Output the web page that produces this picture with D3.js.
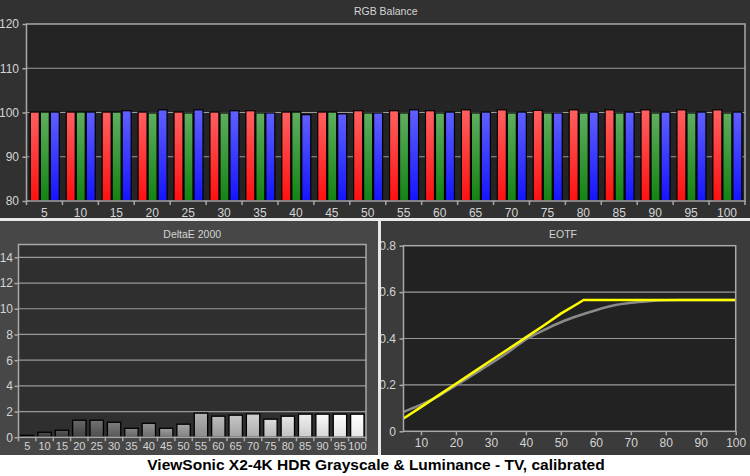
<!DOCTYPE html>
<html><head><meta charset="utf-8">
<script src="https://cdn.jsdelivr.net/npm/d3@7/dist/d3.min.js"></script>
<style>
html,body{margin:0;padding:0;background:#fff;}
svg{display:block;}
text{font-family:"Liberation Sans",Arial,sans-serif;}
</style></head>
<body>
<script>
// ---------- DATA ----------
const categories = [5,10,15,20,25,30,35,40,45,50,55,60,65,70,75,80,85,90,95,100];
const redValues   = [100.1,100.1,100.1,100.1,100.1,100.1,100.4,100.1,100.1,100.4,100.4,100.4,100.6,100.6,100.5,100.6,100.6,100.6,100.6,100.6];
const greenValues = [100.1,100.1,100.1,99.9,99.9,99.9,99.9,100.1,100.1,99.9,99.9,99.9,99.9,99.9,99.9,99.9,99.9,99.9,99.9,99.9];
const blueValues  = [100.1,100.1,100.4,100.6,100.6,100.4,99.9,99.5,99.7,99.9,100.6,100.1,100.1,100.1,99.9,100.1,100.1,100.1,100.1,100.1];
const rgbTicks = [80,90,100,110,120];

const deltaE = [0.15,0.39,0.55,1.33,1.33,1.17,0.70,1.09,0.70,1.02,1.88,1.64,1.72,1.82,1.41,1.64,1.80,1.80,1.80,1.80];
const deltaTicks = [0,2,4,6,8,10,12,14];

const eotfTargetX = [5,10,15,20,25,30,35,40,45,50,55,56.5,60,65,70,75,80,85,90,95,100];
const eotfTargetY = [0.055,0.104,0.155,0.205,0.255,0.305,0.355,0.405,0.455,0.507,0.552,0.566,0.566,0.566,0.566,0.566,0.566,0.566,0.566,0.566,0.566];
const eotfMeasX = [5,10,15,20,25,30,35,40,45,50,55,60,65,70,75,80,85,90,95,100];
const eotfMeasY = [0.084,0.115,0.152,0.198,0.245,0.292,0.342,0.396,0.435,0.470,0.498,0.522,0.542,0.554,0.561,0.565,0.566,0.566,0.566,0.566];
const eotfXTicks = [10,20,30,40,50,60,70,80,90,100];
const eotfYTicks = [0,0.2,0.4,0.6,0.8];

const chartTitle = "ViewSonic X2-4K HDR Grayscale & Luminance - TV, calibrated";

// ---------- SVG ----------
const W = 750, H = 476;
const svg = d3.select("body").append("svg").attr("width", W).attr("height", H);
const defs = svg.append("defs");

svg.append("rect").attr("x",0).attr("y",0).attr("width",W).attr("height",H).attr("fill","#ffffff");
// panels
svg.append("rect").attr("x",0).attr("y",0).attr("width",W).attr("height",218).attr("fill","#313131");
svg.append("rect").attr("x",0).attr("y",221).attr("width",378).attr("height",234).attr("fill","#474747");
svg.append("rect").attr("x",381).attr("y",221).attr("width",369).attr("height",234).attr("fill","#3b3b3b");

const gridCol = "#9a9a9a", frameCol = "#a8a8a8", labelCol = "#d4d4d4";

// ---------- RGB Balance ----------
(function(){
  const L = 26.5, R = 745, T = 24, B = 201;
  const x = d3.scaleBand().domain(categories).range([L, R]);
  const x1 = d3.scaleBand().domain(["R","G","B"]).range([3.3, 33.3]).paddingInner(0.1).paddingOuter(0.05);
  const y = d3.scaleLinear().domain([80,120]).range([B, T]);
  const g = svg.append("g");
  g.append("rect").attr("x",L).attr("y",T).attr("width",R-L).attr("height",B-T).attr("fill","#242424");
  g.selectAll("line.grid").data(rgbTicks.slice(1,-1)).join("line")
    .attr("x1",L).attr("x2",R).attr("y1",d=>y(d)).attr("y2",d=>y(d))
    .attr("stroke",gridCol).attr("stroke-width",1.2);
  g.append("text").attr("x",(L+R)/2).attr("y",15).attr("text-anchor","middle")
    .attr("fill",labelCol).attr("font-size",10.5).text("RGB Balance");

  const cols = {R:["#ff6060","#ff1010"], G:["#5fae5f","#138313"], B:["#6060ff","#1414ff"]};
  Object.entries(cols).forEach(([k,c])=>{
    const lg = defs.append("linearGradient").attr("id","grad"+k).attr("x1",0).attr("y1",0).attr("x2",0).attr("y2",1);
    lg.append("stop").attr("offset","0%").attr("stop-color",c[0]);
    lg.append("stop").attr("offset","100%").attr("stop-color",c[1]);
  });
  const rows = categories.map((c,i)=>({c, vals:[["R",redValues[i]],["G",greenValues[i]],["B",blueValues[i]]]}));
  const grp = g.selectAll("g.grp").data(rows).join("g").attr("transform",d=>`translate(${x(d.c)},0)`);
  grp.selectAll("rect").data(d=>d.vals).join("rect")
    .attr("x",d=>x1(d[0])).attr("width",x1.bandwidth())
    .attr("y",d=>y(d[1])).attr("height",d=>y(80)-y(d[1]))
    .attr("fill",d=>`url(#grad${d[0]})`).attr("stroke","#000").attr("stroke-width",1.2);

  g.append("rect").attr("x",L).attr("y",T).attr("width",R-L).attr("height",B-T)
    .attr("fill","none").attr("stroke",frameCol).attr("stroke-width",1.5);
  const ya = g.append("g").attr("transform",`translate(${L},0)`)
    .call(d3.axisLeft(y).tickValues(rgbTicks).tickSize(4).tickSizeOuter(0));
  ya.select(".domain").remove();
  ya.selectAll("line").attr("stroke",frameCol).attr("stroke-width",1.5);
  ya.selectAll("text").attr("fill",labelCol).attr("font-size",12).attr("dx",-0.5);
  const xa = g.append("g").attr("transform",`translate(0,${B})`)
    .call(d3.axisBottom(x).tickSize(0).tickPadding(7));
  xa.select(".domain").remove();
  xa.selectAll("text").attr("fill",labelCol).attr("font-size",12);
  g.selectAll("line.xt").data(categories).join("line")
    .attr("x1",d=>x(d)).attr("x2",d=>x(d)).attr("y1",B).attr("y2",B+4)
    .attr("stroke",frameCol).attr("stroke-width",1.5);
  g.append("line").attr("x1",R).attr("x2",R).attr("y1",B).attr("y2",B+4).attr("stroke",frameCol).attr("stroke-width",1.5);
})();

// ---------- DeltaE 2000 ----------
(function(){
  const L = 18.5, R = 366, T = 244.5, B = 437.3;
  const x = d3.scaleBand().domain(categories).range([L, R]).paddingInner(0.23).paddingOuter(0.115);
  const xb = d3.scaleBand().domain(categories).range([L, R]);
  const y = d3.scaleLinear().domain([0,15]).range([B, T]);
  const g = svg.append("g");
  g.append("rect").attr("x",L).attr("y",T).attr("width",R-L).attr("height",B-T).attr("fill","#2f2f2f");
  g.selectAll("line.grid").data(deltaTicks.slice(1)).join("line")
    .attr("x1",L).attr("x2",R).attr("y1",d=>y(d)).attr("y2",d=>y(d))
    .attr("stroke",gridCol).attr("stroke-width",1.2);
  g.append("text").attr("x",(L+R)/2).attr("y",238).attr("text-anchor","middle")
    .attr("fill",labelCol).attr("font-size",10.5).text("DeltaE 2000");
  categories.forEach((c,i)=>{
    const v = Math.min(250, 42 + 2.1*c);
    const lg = defs.append("linearGradient").attr("id","gd"+i).attr("x1",0).attr("y1",0).attr("x2",0).attr("y2",1);
    lg.append("stop").attr("offset","0%").attr("stop-color",d3.rgb(v+20,v+20,v+20));
    lg.append("stop").attr("offset","100%").attr("stop-color",d3.rgb(v-18,v-18,v-18));
  });
  g.selectAll("rect.bar").data(deltaE).join("rect")
    .attr("x",(d,i)=>x(categories[i])).attr("width",x.bandwidth())
    .attr("y",d=>y(d)).attr("height",d=>y(0)-y(d))
    .attr("fill",(d,i)=>`url(#gd${i})`).attr("stroke","#000").attr("stroke-width",1.3);
  g.append("rect").attr("x",L).attr("y",T).attr("width",R-L).attr("height",B-T)
    .attr("fill","none").attr("stroke",frameCol).attr("stroke-width",1.5);
  const ya = g.append("g").attr("transform",`translate(${L},0)`)
    .call(d3.axisLeft(y).tickValues(deltaTicks).tickSize(4).tickSizeOuter(0));
  ya.select(".domain").remove();
  ya.selectAll("line").attr("stroke",frameCol).attr("stroke-width",1.5);
  ya.selectAll("text").attr("fill",labelCol).attr("font-size",12).attr("dx",1.5);
  const xa = g.append("g").attr("transform",`translate(0,${B})`)
    .call(d3.axisBottom(xb).tickSize(0).tickPadding(5));
  xa.select(".domain").remove();
  xa.selectAll("text").attr("fill",labelCol).attr("font-size",11);
  g.selectAll("line.xt").data(categories).join("line")
    .attr("x1",d=>xb(d)).attr("x2",d=>xb(d)).attr("y1",B).attr("y2",B+4)
    .attr("stroke",frameCol).attr("stroke-width",1.5);
  g.append("line").attr("x1",R).attr("x2",R).attr("y1",B).attr("y2",B+4).attr("stroke",frameCol).attr("stroke-width",1.5);
})();

// ---------- EOTF ----------
(function(){
  const L = 403.5, R = 735.7, T = 245.7, B = 431.3;
  const x = d3.scaleLinear().domain([5,100]).range([L, R]);
  const y = d3.scaleLinear().domain([0,0.8]).range([B, T]);
  const g = svg.append("g");
  g.append("rect").attr("x",L).attr("y",T).attr("width",R-L).attr("height",B-T).attr("fill","#222222");
  g.selectAll("line.grid").data(eotfYTicks.slice(1,-1)).join("line")
    .attr("x1",L).attr("x2",R).attr("y1",d=>y(d)).attr("y2",d=>y(d))
    .attr("stroke",gridCol).attr("stroke-width",1.2);
  g.append("text").attr("x",563).attr("y",238).attr("text-anchor","middle")
    .attr("fill",labelCol).attr("font-size",10.5).text("EOTF");
  g.append("path").datum(eotfMeasX.map((v,i)=>[v,eotfMeasY[i]]))
    .attr("d",d3.line().x(d=>x(d[0])).y(d=>y(d[1])).curve(d3.curveMonotoneX))
    .attr("fill","none").attr("stroke","#8a8a8a").attr("stroke-width",2.5);
  g.append("path").datum(eotfTargetX.map((v,i)=>[v,eotfTargetY[i]]))
    .attr("d",d3.line().x(d=>x(d[0])).y(d=>y(d[1]))).attr("fill","none").attr("stroke","#ffff00").attr("stroke-width",2.5);
  g.append("rect").attr("x",L).attr("y",T).attr("width",R-L).attr("height",B-T)
    .attr("fill","none").attr("stroke",frameCol).attr("stroke-width",1.5);
  const ya = g.append("g").attr("transform",`translate(${L},0)`)
    .call(d3.axisLeft(y).tickValues(eotfYTicks).tickSize(4).tickSizeOuter(0).tickFormat(d=>d===0?"0":d3.format(".1f")(d)));
  ya.select(".domain").remove();
  ya.selectAll("line").attr("stroke",frameCol).attr("stroke-width",1.5);
  ya.selectAll("text").attr("fill",labelCol).attr("font-size",12).attr("dx",-0.5);
  const xa = g.append("g").attr("transform",`translate(0,${B})`)
    .call(d3.axisBottom(x).tickValues(eotfXTicks).tickSize(4).tickSizeOuter(0).tickPadding(3));
  xa.select(".domain").remove();
  xa.selectAll("line").attr("stroke",frameCol).attr("stroke-width",1.5);
  xa.selectAll("text").attr("fill",labelCol).attr("font-size",12);
})();

// separators
svg.append("rect").attr("x",0).attr("y",218).attr("width",W).attr("height",3).attr("fill","#e8e8e8");
svg.append("rect").attr("x",378).attr("y",221).attr("width",3).attr("height",234).attr("fill","#e8e8e8");

// bottom title
svg.append("text").attr("x",376).attr("y",470).attr("text-anchor","middle")
  .attr("font-family","Lato, 'Open Sans', sans-serif").attr("font-weight","bold").attr("font-size",15.5)
  .attr("fill","#000").text(chartTitle);
</script>
</body></html>
